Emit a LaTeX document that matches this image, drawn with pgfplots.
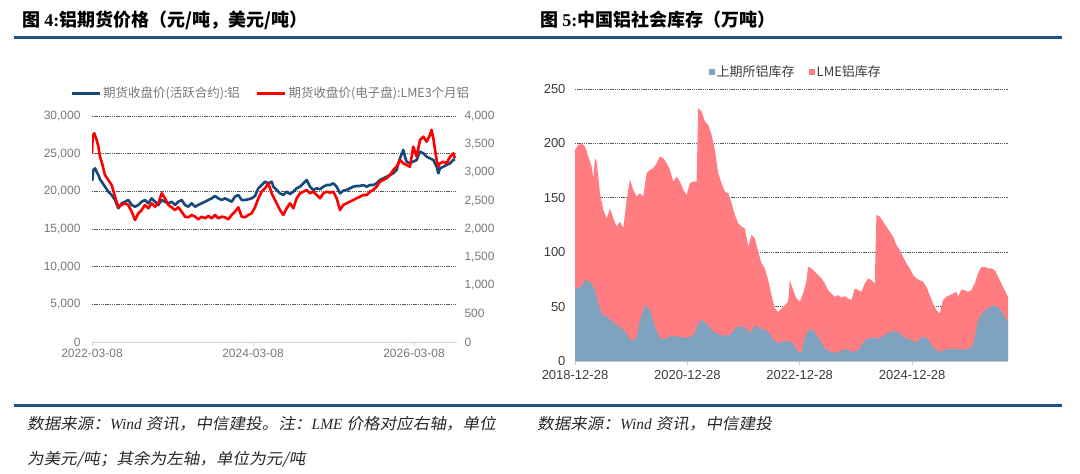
\documentclass[border=0pt]{standalone}
\usepackage{fontspec}
\usepackage{pgfplots}
\usepackage{pgfplotstable}
\pgfplotsset{compat=1.18}
\setmainfont{Liberation Sans}
\newfontfamily\cjk{Noto Sans CJK SC}
\newfontfamily\cjkit[FakeSlant=0.18,FakeStretch=1.07]{Noto Sans CJK SC}
\newfontfamily\tnr{Liberation Serif}

\definecolor{rulec}{RGB}{31,84,135}
\definecolor{lblue}{RGB}{22,72,122}
\definecolor{lred}{RGB}{255,0,0}
\definecolor{bluea}{RGB}{127,163,191}
\definecolor{reda}{RGB}{255,124,128}
\definecolor{gridc}{RGB}{90,90,90}
\definecolor{labc}{RGB}{120,120,120}
\definecolor{labc2}{RGB}{60,60,60}
\definecolor{footc}{RGB}{40,40,40}

% SHFE aluminium, CNY/t (left axis); x = years since 2022-03-08
\pgfplotstableread{
x y
0.000 22200
0.005 21500
0.015 22800
0.037 23050
0.058 22600
0.079 22170
0.099 21600
0.120 21280
0.161 20620
0.203 19950
0.244 19510
0.286 18850
0.327 17750
0.369 18410
0.410 18620
0.451 18850
0.493 18190
0.534 17960
0.576 18190
0.617 18620
0.658 18850
0.700 18410
0.741 19070
0.783 18620
0.824 18190
0.865 18850
0.907 18620
0.948 18410
0.990 18620
1.031 18190
1.072 18620
1.114 18850
1.155 18190
1.197 17960
1.238 18410
1.280 17960
1.321 18190
1.362 18410
1.404 18620
1.445 18850
1.487 19070
1.528 19380
1.569 19070
1.611 18850
1.652 19070
1.694 18850
1.735 18620
1.776 19290
1.818 19510
1.859 18850
1.901 18850
1.942 18940
1.983 19070
2.025 19380
2.066 20400
2.108 20840
2.149 21280
2.190 21060
2.232 21280
2.253 20620
2.294 20180
2.335 19730
2.377 19510
2.418 19950
2.460 19640
2.501 19950
2.542 20400
2.584 20620
2.625 21060
2.667 21500
2.708 20620
2.749 20180
2.791 20400
2.832 20270
2.874 20620
2.915 20840
2.956 20840
2.998 21060
3.039 20620
3.081 19730
3.122 20090
3.163 20180
3.205 20400
3.246 20620
3.288 20710
3.329 20710
3.370 20840
3.412 20620
3.453 20840
3.494 20840
3.536 21060
3.577 21500
3.619 21720
3.660 21940
3.701 22170
3.743 22390
3.784 22830
3.825 24380
3.867 25490
3.888 24600
3.908 23940
3.950 23720
3.991 23940
4.033 24160
4.074 25270
4.115 25050
4.157 24600
4.198 24380
4.240 24160
4.281 23270
4.302 22390
4.322 23050
4.364 23270
4.405 23500
4.447 23720
4.488 24160
4.509 24250
}\shfeprice

% LME 3M aluminium, USD/t (right axis)
\pgfplotstableread{
x y
0.000 3340
0.010 3660
0.029 3694
0.058 3575
0.079 3457
0.099 3280
0.120 3191
0.161 2956
0.203 2867
0.244 2779
0.286 2572
0.327 2395
0.369 2425
0.410 2455
0.451 2425
0.493 2306
0.534 2159
0.576 2278
0.617 2336
0.658 2425
0.700 2366
0.741 2455
0.783 2395
0.824 2455
0.865 2632
0.907 2543
0.948 2425
0.990 2384
1.031 2336
1.072 2384
1.114 2306
1.155 2218
1.197 2207
1.238 2248
1.280 2218
1.321 2172
1.362 2218
1.404 2189
1.445 2230
1.487 2189
1.528 2248
1.569 2189
1.611 2218
1.652 2207
1.694 2172
1.735 2248
1.776 2306
1.818 2384
1.859 2218
1.901 2207
1.942 2248
1.983 2278
2.025 2384
2.066 2543
2.108 2661
2.149 2720
2.190 2809
2.232 2632
2.253 2572
2.294 2455
2.335 2336
2.377 2248
2.418 2366
2.460 2455
2.501 2366
2.542 2543
2.584 2632
2.625 2660
2.667 2690
2.708 2632
2.749 2660
2.791 2602
2.832 2543
2.874 2632
2.915 2660
2.956 2644
2.998 2660
3.039 2543
3.081 2336
3.122 2425
3.163 2455
3.205 2484
3.246 2513
3.288 2543
3.329 2572
3.370 2602
3.412 2602
3.453 2660
3.494 2690
3.536 2749
3.577 2838
3.619 2867
3.660 2897
3.701 2956
3.743 3044
3.784 3103
3.825 3221
3.867 3162
3.908 3132
3.950 3103
3.991 3457
4.033 3280
4.074 3575
4.115 3634
4.157 3546
4.198 3664
4.219 3753
4.240 3605
4.281 3221
4.302 3103
4.322 3162
4.364 3191
4.405 3162
4.447 3280
4.488 3339
4.509 3250
}\lmeprice

% SHFE aluminium inventory (10kt); x = years since 2018-12-28
\pgfplotstableread{
x y
0.000 66.6
0.089 67.6
0.178 74.3
0.267 72.8
0.356 65.0
0.415 52.8
0.474 43.6
0.563 40.5
0.652 37.5
0.741 32.9
0.830 29.8
0.919 25.2
1.008 17.5
1.097 22.1
1.156 37.5
1.245 51.3
1.334 46.7
1.423 31.3
1.512 20.6
1.630 20.6
1.719 23.6
1.808 22.7
1.927 21.5
2.016 21.5
2.105 23.6
2.194 34.4
2.253 38.1
2.342 34.4
2.460 26.7
2.609 23.6
2.757 23.6
2.875 31.3
2.994 31.9
3.113 25.8
3.202 32.9
3.290 29.8
3.409 28.3
3.498 22.1
3.587 16.6
3.676 17.5
3.765 19.0
3.883 16.0
3.972 8.3
4.032 8.3
4.091 22.1
4.180 29.8
4.269 26.7
4.358 19.0
4.447 11.4
4.565 8.3
4.684 7.4
4.802 11.4
4.921 8.3
5.039 9.8
5.158 19.0
5.277 21.5
5.395 20.6
5.514 23.6
5.632 27.6
5.751 26.7
5.869 21.5
5.988 19.0
6.077 16.6
6.166 22.1
6.255 21.5
6.373 12.9
6.492 8.3
6.581 10.4
6.729 11.4
6.877 10.7
6.996 10.7
7.085 14.4
7.174 37.5
7.263 45.1
7.352 48.2
7.441 51.3
7.530 49.7
7.619 43.6
7.707 35.9
}\shfestock

% total social inventory incl. LME stacked on top (10kt)
\pgfplotstableread{
x y
0.000 194.1
0.059 198.7
0.119 199.6
0.178 197.2
0.237 187.9
0.296 178.7
0.326 168.0
0.356 186.4
0.385 183.3
0.445 154.2
0.504 138.8
0.563 131.1
0.623 140.3
0.682 131.1
0.741 123.5
0.800 128.1
0.860 121.9
0.919 148.0
0.978 166.4
1.038 157.2
1.097 151.1
1.156 154.2
1.215 151.1
1.275 172.6
1.334 175.7
1.393 177.2
1.453 181.8
1.512 187.9
1.571 186.4
1.630 181.8
1.690 175.7
1.749 164.9
1.808 169.5
1.868 164.9
1.927 157.2
1.986 152.6
2.045 163.4
2.105 164.9
2.164 164.9
2.194 232.5
2.253 229.4
2.312 220.2
2.372 217.1
2.431 207.9
2.490 194.1
2.549 172.6
2.609 163.4
2.668 155.7
2.727 154.2
2.787 145.0
2.846 134.2
2.905 126.5
2.964 123.5
3.024 121.9
3.083 105.0
3.142 115.8
3.202 112.7
3.261 100.4
3.320 89.7
3.379 85.1
3.439 74.3
3.498 60.5
3.557 48.2
3.617 45.1
3.676 48.2
3.735 51.3
3.794 54.4
3.824 74.3
3.883 65.1
3.943 57.4
4.002 54.4
4.061 62.0
4.121 74.3
4.150 86.6
4.209 85.1
4.269 82.0
4.328 78.9
4.387 75.9
4.447 71.2
4.506 65.1
4.565 62.0
4.624 59.0
4.684 60.5
4.743 58.4
4.802 59.6
4.862 57.4
4.921 55.9
4.980 66.6
5.039 65.1
5.099 63.6
5.158 71.2
5.217 75.9
5.277 74.3
5.336 71.2
5.365 134.2
5.425 132.7
5.484 128.1
5.543 123.5
5.603 118.9
5.662 114.2
5.721 106.6
5.781 102.0
5.840 95.8
5.899 89.7
5.958 85.1
6.018 78.9
6.077 75.9
6.136 74.3
6.196 72.8
6.255 68.2
6.314 60.5
6.373 52.8
6.433 46.7
6.492 43.6
6.551 55.9
6.611 59.0
6.670 60.5
6.729 62.0
6.789 63.6
6.818 59.0
6.877 65.7
6.937 65.1
6.996 63.6
7.055 65.1
7.115 71.2
7.174 80.5
7.233 86.6
7.293 86.6
7.352 85.1
7.411 85.1
7.470 83.5
7.530 77.4
7.589 71.2
7.648 65.1
7.707 59.0
}\totalstock

\pgfplotsset{
  common/.style={
    anchor=south west, scale only axis,
    /pgf/number format/1000 sep={,},
    /pgf/number format/assume math mode=true,
    scaled y ticks=false,
    tick align=outside, major tick length=4pt,
    ytick style={draw=none}, minor tick style={draw=none},
    minor grid style={draw=gridc, dash pattern=on 1.3pt off 0.9pt, line width=0.8pt},
  },
}

\begin{document}
\begin{tikzpicture}[x=1pt,y=1pt]
\path[use as bounding box] (0,0) rectangle (1080,474);

% titles and rules
\node[anchor=west, inner sep=0pt] at (22,454) {\fontsize{18}{20}\selectfont{\cjk\bfseries 图 }{\tnr\bfseries 4:}{\cjk\bfseries 铝期货价格（元/吨，美元/吨）}};
\node[anchor=west, inner sep=0pt] at (540,454) {\fontsize{18}{20}\selectfont{\cjk\bfseries 图 }{\tnr\bfseries 5:}{\cjk\bfseries 中国铝社会库存（万吨）}};
\draw[line width=3pt, rulec] (14,436) -- (1062,436);
\draw[line width=3pt, rulec] (14,68) -- (1062,68);

% footnotes
\node[anchor=west, inner sep=0pt, text=footc] at (27,50) {\fontsize{15.5}{18}\selectfont{\cjkit 数据来源：}{\tnr\itshape Wind }{\cjkit 资讯，中信建投。注：}{\tnr\itshape LME }{\cjkit 价格对应右轴，单位}};
\node[anchor=west, inner sep=0pt, text=footc] at (27,15) {\fontsize{15.5}{18}\selectfont{\cjkit 为美元/吨；其余为左轴，单位为元/吨}};
\node[anchor=west, inner sep=0pt, text=footc] at (537,50) {\fontsize{15.5}{18}\selectfont{\cjkit 数据来源：}{\tnr\itshape Wind }{\cjkit 资讯，中信建投}};

% ---------- left chart: left axis (CNY)
\begin{axis}[common,
  at={(92pt,132pt)}, width=365pt, height=226pt,
  xmin=0, xmax=4.534, ymin=0, ymax=30000,
  axis x line*=bottom, axis y line*=left,
  y axis line style={draw=none},
  x axis line style={draw=gray!35, line width=0.9pt, -},
  xtick={0,2,4}, xticklabels={2022-03-08,2024-03-08,2026-03-08},
  xtick style={draw=gray!35, line width=0.9pt},
  ytick={0,5000,...,30000},
  minor ytick={5000,10000,...,30000}, yminorgrids,
  ticklabel style={font=\fontsize{12}{14}\selectfont, text=labc},
  yticklabel style={xshift=-4pt},
]
\addplot[lblue, line width=2.6pt, line join=round] table {\shfeprice};
\end{axis}

% ---------- left chart: right axis (USD)
\begin{axis}[common,
  at={(92pt,132pt)}, width=365pt, height=226pt,
  xmin=0, xmax=4.534, ymin=0, ymax=4000,
  hide x axis,
  axis y line*=right,
  y axis line style={draw=none},
  ytick={0,500,...,4000},
  ticklabel style={font=\fontsize{12}{14}\selectfont, text=labc},
  legend style={at={(0.49,1.10)}, anchor=center, draw=none, fill=none,
    legend columns=2, font=\cjk\fontsize{12.5}{14}\selectfont, text=labc,
    /tikz/every even column/.append style={column sep=14pt}},
  legend image code/.code={\draw[#1] (0pt,0pt) -- (28pt,0pt);},
]
\addlegendimage{lblue, line width=2.6pt}
\addlegendentry{期货收盘价(活跃合约):铝}
\addplot[lred, line width=2.6pt, line join=round] table {\lmeprice};
\addlegendentry{期货收盘价(电子盘):LME3个月铝}
\end{axis}

% ---------- right chart
\begin{axis}[common,
  at={(575pt,113pt)}, width=433pt, height=272pt,
  xmin=0, xmax=7.707, ymin=0, ymax=250,
  axis x line*=bottom, axis y line*=left,
  y axis line style={draw=none},
  x axis line style={draw=gray!45, line width=0.9pt, -},
  xtick={0,2,4,6}, xticklabels={2018-12-28,2020-12-28,2022-12-28,2024-12-28},
  xtick style={draw=gray!45, line width=0.9pt},
  ytick={0,50,...,250},
  minor ytick={50,100,...,250}, yminorgrids,
  ticklabel style={font=\fontsize{13}{15}\selectfont, text=labc2},
  yticklabel style={xshift=-2pt},
  xticklabel style={yshift=-2pt},
  legend style={at={(0.51,1.0625)}, anchor=center, draw=none, fill=none,
    legend columns=2, font=\cjk\fontsize{13}{15}\selectfont, text=labc2,
    /tikz/every even column/.append style={column sep=12pt}},
  legend image code/.code={\fill[#1] (0pt,-3pt) rectangle (6pt,3pt);},
]
\addlegendimage{fill=bluea, draw=none}
\addlegendentry{上期所铝库存}
\addlegendimage{fill=reda, draw=none}
\addlegendentry{LME铝库存}
\addplot[fill=reda, draw=none, forget plot] table {\totalstock} \closedcycle;
\addplot[fill=bluea, draw=none, forget plot] table {\shfestock} \closedcycle;
\end{axis}
\end{tikzpicture}
\end{document}
